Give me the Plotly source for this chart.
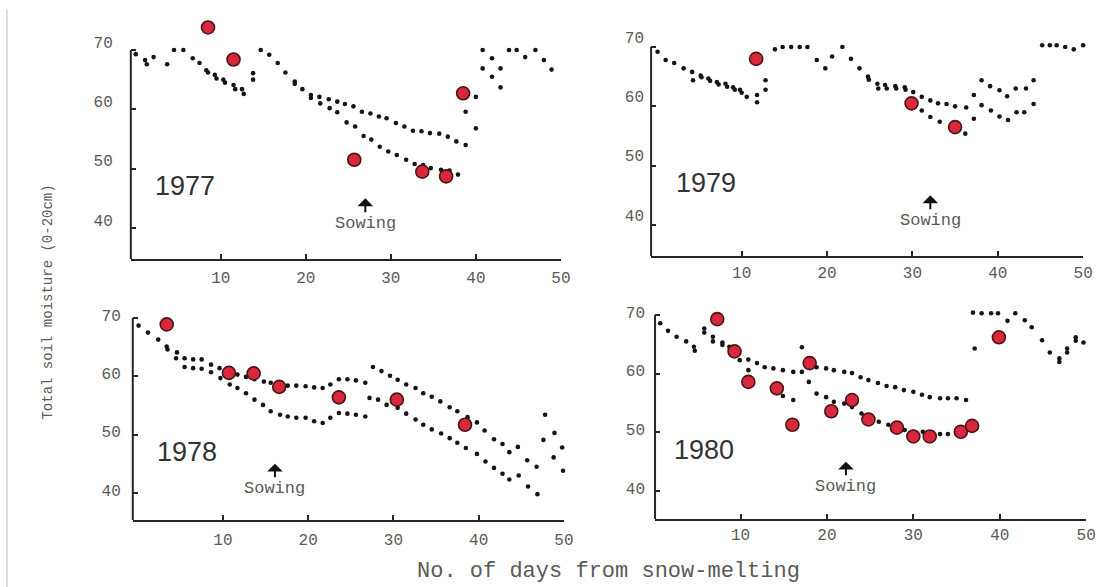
import plotly.graph_objects as go

W, H = 1109, 587

# ---------------- data ----------------
years = ["1977", "1979", "1978", "1980"]

d77_a = [0, 1.1, 2.1, 3.7, 4.5, 5.6, 6.7, 7.5, 8.3, 9.3, 10.3, 11.5, 12.5, 13.8, 14.7, 15.7, 16.7, 17.6, 18.7, 19.6,
         20.6, 21.6, 22.7, 23.7, 24.6, 25.6, 26.6, 27.6, 28.6, 29.5, 30.6, 31.6, 32.6, 33.6, 34.6, 35.7, 36.7, 37.7, 38.8, 40.0,
         40.8, 41.9, 42.9, 43.9, 44.8, 45.8, 47.0, 48.0, 48.9]
m77_a = [69.3, 68.3, 68.8, 67.6, 70.0, 70.0, 68.6, 67.8, 66.6, 65.8, 65.0, 64.1, 63.4, 66.1, 70.0, 69.2, 67.8, 66.2, 64.7, 63.4,
         62.4, 62.1, 61.7, 61.3, 60.9, 60.5, 59.6, 59.3, 58.8, 58.5, 57.7, 57.1, 56.4, 56.3, 56.0, 55.9, 55.4, 54.6, 54.0, 62.1,
         70.0, 68.6, 66.9, 70.0, 70.0, 68.8, 70.0, 68.3, 66.7]
d77_b = [1.3, 8.5, 9.5, 10.5, 11.7, 12.7, 13.8, 18.7, 20.6, 21.7, 22.8, 23.7, 24.8, 25.8, 26.8, 27.7, 28.7, 29.7, 30.7, 31.8,
         32.8, 33.8, 34.7, 35.9, 36.9, 37.9, 38.8, 40.0, 40.8, 41.9, 42.9]
m77_b = [67.6, 66.2, 65.2, 64.5, 63.4, 62.6, 65.0, 64.3, 61.9, 61.0, 60.2, 59.5, 57.8, 57.1, 55.5, 54.9, 53.7, 52.9, 52.3, 51.5,
         50.8, 50.6, 50.1, 49.8, 49.7, 49.0, 59.6, 56.8, 66.9, 65.5, 63.7]
d77_obs = [8.5, 11.5, 25.7, 33.7, 36.5, 38.5]
m77_obs = [73.8, 68.4, 51.5, 49.5, 48.7, 62.7]

d79_a = [0.15, 1.1, 2.1, 3.2, 4.2, 5.2, 6.1, 7.1, 8.1, 9.0, 9.8, 10.6, 11.8, 12.8, 13.9, 14.8, 15.8, 16.8, 17.7, 18.8,
         19.8, 20.6, 21.8, 22.8, 23.8, 24.8, 25.9, 26.8, 28.0, 29.1, 30.1, 31.1, 32.1, 33.0, 34.0, 35.0, 36.3, 37.2, 38.1, 39.1,
         40.2, 41.1, 42.1, 43.3, 44.2, 45.2, 46.1, 46.9, 47.9, 48.9, 50.0]
m79_a = [69.2, 67.8, 67.3, 66.4, 65.8, 65.2, 64.7, 64.1, 63.8, 63.2, 62.8, 61.6, 61.9, 64.4, 69.6, 70.0, 70.0, 70.0, 70.0, 67.8,
         66.4, 68.4, 70.0, 68.0, 66.4, 65.0, 63.8, 63.6, 63.4, 63.2, 62.4, 61.6, 61.0, 60.5, 60.4, 60.0, 59.8, 61.9, 64.4, 63.4,
         62.7, 61.7, 63.0, 63.0, 64.4, 70.3, 70.3, 70.3, 70.0, 69.6, 70.3]
d79_b = [4.3, 5.3, 6.3, 7.3, 8.3, 9.2, 10.0, 11.8, 12.8, 24.9, 26.0, 27.0, 28.1, 29.2, 31.1, 32.1, 33.2, 36.2, 37.2, 38.1,
         39.2, 40.2, 41.2, 42.2, 43.1, 44.2]
m79_b = [64.4, 64.9, 64.3, 63.7, 63.3, 62.8, 62.3, 60.7, 62.8, 64.5, 63.0, 63.0, 63.0, 62.8, 59.3, 58.2, 57.4, 55.4, 57.9, 60.2,
         59.3, 58.3, 57.7, 59.0, 59.0, 60.4]
d79_obs = [11.7, 29.9, 35.0]
m79_obs = [68.0, 60.5, 56.5]

d78_a = [0.1, 1.2, 2.4, 3.4, 4.6, 5.5, 6.5, 7.5, 8.6, 9.6, 10.8, 11.7, 12.7, 13.7, 14.8, 15.6, 16.7, 17.6, 18.6, 19.7,
         20.7, 21.7, 22.6, 23.6, 24.6, 25.6, 26.7, 27.6, 28.6, 29.6, 30.5, 31.5, 32.6, 33.5, 34.5, 35.5, 36.6, 37.5, 38.7, 39.8,
         40.7, 41.8, 42.8, 43.6, 44.6, 45.7, 46.8, 47.8, 48.9, 49.8]
m78_a = [68.7, 67.5, 66.3, 65.1, 64.1, 63.1, 62.9, 62.9, 62.0, 61.4, 60.6, 60.3, 59.9, 59.5, 59.1, 58.9, 58.3, 58.4, 58.4, 58.3,
         58.1, 58.0, 58.6, 59.5, 59.5, 59.3, 58.9, 61.6, 60.9, 60.1, 59.4, 58.6, 58.0, 57.1, 56.5, 55.7, 54.7, 54.0, 53.0, 52.1,
         50.7, 49.2, 48.4, 47.0, 47.9, 45.6, 44.5, 53.4, 50.3, 47.8]
d78_b = [3.5, 4.5, 5.5, 6.5, 7.5, 8.6, 9.7, 10.8, 11.7, 12.7, 13.7, 14.7, 15.6, 16.7, 17.6, 18.6, 19.7, 20.7, 21.7, 22.6,
         23.6, 24.6, 25.6, 26.7, 27.2, 28.2, 29.2, 30.5, 31.5, 32.6, 33.5, 34.5, 35.6, 36.6, 37.5, 38.5, 39.8, 40.8, 41.8, 42.8,
         43.6, 44.7, 45.8, 46.9, 47.6, 48.8, 49.9]
m78_b = [64.6, 63.1, 61.6, 61.4, 61.3, 60.7, 59.7, 58.6, 58.0, 57.1, 56.0, 55.1, 54.0, 53.4, 53.1, 52.9, 52.9, 52.3, 52.0, 52.9,
         53.7, 53.6, 53.4, 53.1, 56.3, 56.0, 55.1, 54.6, 53.6, 52.6, 51.7, 50.9, 50.2, 49.4, 48.6, 47.7, 46.7, 45.4, 44.3, 43.3,
         42.3, 43.0, 41.1, 39.8, 49.1, 46.1, 43.8]
d78_obs = [3.4, 10.7, 13.6, 16.6, 23.6, 30.4, 38.4]
m78_obs = [68.9, 60.6, 60.5, 58.2, 56.4, 56.0, 51.7]

d80_a = [0.7, 1.6, 2.6, 3.7, 4.6, 5.8, 6.8, 7.9, 8.7, 9.8, 10.9, 11.9, 12.8, 13.8, 14.9, 16.1, 17.1, 17.9, 18.8, 19.9,
         20.8, 22.0, 22.9, 23.9, 24.8, 25.9, 26.9, 27.9, 28.9, 30.0, 31.0, 31.9, 33.1, 34.0, 35.0, 36.1, 36.9, 37.9, 39.0, 39.8,
         40.9, 41.8, 42.9, 43.7, 44.9, 45.8, 46.9, 47.8, 48.8, 49.7]
m80_a = [68.6, 67.3, 66.3, 65.5, 64.6, 67.7, 66.3, 65.3, 64.6, 63.5, 62.4, 61.8, 61.1, 60.9, 60.6, 60.3, 60.3, 62.6, 61.1, 60.9,
         60.6, 60.3, 60.1, 59.4, 58.9, 58.4, 57.9, 57.7, 57.2, 56.9, 56.4, 56.0, 55.8, 55.8, 55.8, 55.5, 70.4, 70.3, 70.3, 70.3,
         69.0, 70.3, 69.1, 67.9, 65.7, 63.6, 62.6, 64.3, 66.2, 65.3]
d80_b = [4.7, 5.8, 6.8, 7.9, 9.9, 10.9, 14.0, 14.9, 16.1, 17.1, 17.9, 18.8, 19.9, 20.8, 22.0, 22.9, 24.0, 25.0, 26.0, 27.1,
         28.1, 29.0, 30.0, 31.1, 32.1, 33.1, 34.0, 35.2, 35.9, 37.1, 46.9, 47.8, 48.8]
m80_b = [63.9, 67.0, 65.5, 64.9, 62.3, 60.6, 58.1, 56.2, 55.5, 64.5, 58.6, 56.6, 56.0, 55.2, 54.9, 54.3, 53.2, 52.4, 51.8, 51.3,
         50.7, 50.4, 50.1, 50.1, 49.7, 49.7, 49.7, 49.8, 49.7, 64.3, 62.0, 63.6, 65.6]
d80_obs = [7.3, 9.3, 10.9, 14.2, 16.0, 18.0, 20.5, 22.9, 24.8, 28.1, 30.0, 31.9, 35.5, 36.8, 39.9]
m80_obs = [69.3, 63.8, 58.6, 57.5, 51.3, 61.8, 53.6, 55.5, 52.2, 50.8, 49.3, 49.3, 50.1, 51.1, 66.2]

sowing_day = [27.0, 32.1, 16.1, 22.2]
x_ticks = [10, 20, 30, 40, 50]
y_ticks = [40, 50, 60, 70]
y_axis_top = 70
y_view_top = 75

series = {
    "1977": (d77_a, m77_a, d77_b, m77_b, d77_obs, m77_obs),
    "1979": (d79_a, m79_a, d79_b, m79_b, d79_obs, m79_obs),
    "1978": (d78_a, m78_a, d78_b, m78_b, d78_obs, m78_obs),
    "1980": (d80_a, m80_a, d80_b, m80_b, d80_obs, m80_obs),
}

# ---------------- layout geometry (pixels) ----------------
# px: left/right pixel of x-axis; py70: pixel row of value 70; pyb: pixel row of x-axis
panels = {
    "1977": dict(px=(132, 566), py70=50, pyb=259, xr=(-0.58, 50), y0=34.78, shift=-8, stand=17, xstand=3),
    "1979": dict(px=(657, 1093), py70=47, pyb=256, xr=(-0.61, 50), y0=34.78, shift=-10, stand=6, xstand=1),
    "1978": dict(px=(134, 569), py70=318, pyb=520, xr=(-0.58, 50), y0=35.37, shift=-3, stand=11, xstand=4),
    "1980": dict(px=(661, 1096), py70=315, pyb=519, xr=(0.1, 50), y0=35.23, shift=-3, stand=9, xstand=0),
}

fig = go.Figure()
mono = "Liberation Mono, DejaVu Sans Mono, monospace"
axis_col = "#262626"
text_col = "#5a5a5a"

annotations = []
shapes = [dict(type="line", xref="paper", yref="paper", x0=7 / W, x1=7 / W, y0=0, y1=1 - 9 / H,
               line=dict(color="#bdbdbd", width=1))]
for i, yr in enumerate(years):
    k = "" if i == 0 else str(i + 1)
    p = panels[yr]
    da, ma, db, mb, do, mo = series[yr]
    xa, ya = "x" + k, "y" + k
    for dd, mm in ((da, ma), (db, mb)):
        fig.add_trace(go.Scatter(x=dd, y=mm, mode="markers", xaxis=xa, yaxis=ya,
                                 marker=dict(symbol="circle", size=4.6, color="#151515"),
                                 cliponaxis=False, showlegend=False))
    fig.add_trace(go.Scatter(x=do, y=mo, mode="markers", xaxis=xa, yaxis=ya,
                             marker=dict(symbol="circle", size=13, color="#d8283c",
                                         line=dict(color="#4a1414", width=1.6)),
                             cliponaxis=False, showlegend=False))
    ppu = (p["pyb"] - p["py70"]) / (y_axis_top - p["y0"])
    py_top = p["py70"] - (y_view_top - y_axis_top) * ppu
    dom_x = [p["px"][0] / W, p["px"][1] / W]
    dom_y = [1 - p["pyb"] / H, 1 - py_top / H]
    common = dict(linecolor=axis_col, linewidth=2, ticks="inside", ticklen=5,
                  tickwidth=1.5, tickcolor=axis_col, showgrid=False, zeroline=False,
                  tickfont=dict(family=mono, size=16, color=text_col))
    fig.update_layout(**{
        "xaxis" + k: dict(domain=dom_x, range=list(p["xr"]), tickvals=x_ticks, anchor=ya, showline=True,
                          ticklabelstandoff=p["xstand"], **common),
        "yaxis" + k: dict(domain=dom_y, range=[p["y0"], y_view_top], tickvals=y_ticks, anchor=xa, showline=False,
                          ticklabelstandoff=p["stand"], ticklabelshift=p["shift"], **common),
    })
    # y-axis line, drawn only up to the 70 tick
    frac70 = (y_axis_top - p["y0"]) / (y_view_top - p["y0"])
    shapes.append(dict(type="line", xref=xa + " domain", yref=ya + " domain", x0=0, x1=0, y0=0, y1=frac70,
                       line=dict(color=axis_col, width=2)))
    # year label
    annotations.append(dict(x=5.8, y=47.0, xref=xa, yref=ya, text=yr, showarrow=False,
                            font=dict(family="Liberation Sans, Arial, sans-serif", size=27, color="#333333")))
    # sowing label with arrow
    annotations.append(dict(x=sowing_day[i], y=45.0, xref=xa, yref=ya, ax=sowing_day[i], ay=40.8,
                            axref=xa, ayref=ya, text="Sowing", showarrow=True, arrowhead=1,
                            arrowsize=1.3, arrowwidth=2, arrowcolor="#111111",
                            font=dict(family=mono, size=17, color=text_col)))

annotations.append(dict(x=48 / W, y=1 - 302 / H, xref="paper", yref="paper", xanchor="center", yanchor="middle",
                        text="Total soil moisture (0-20cm)", textangle=-90, showarrow=False,
                        font=dict(family=mono, size=14, color=text_col)))
annotations.append(dict(x=614 / W, y=1 - 571 / H, xref="paper", yref="paper", xanchor="center", yanchor="middle",
                        text="No. of days from snow-melting", showarrow=False,
                        font=dict(family=mono, size=22, color=text_col)))

fig.update_layout(
    width=W, height=H, margin=dict(l=0, r=0, t=0, b=0),
    paper_bgcolor="white", plot_bgcolor="white",
    annotations=annotations, shapes=shapes,
)

fig.write_html("out.html")
